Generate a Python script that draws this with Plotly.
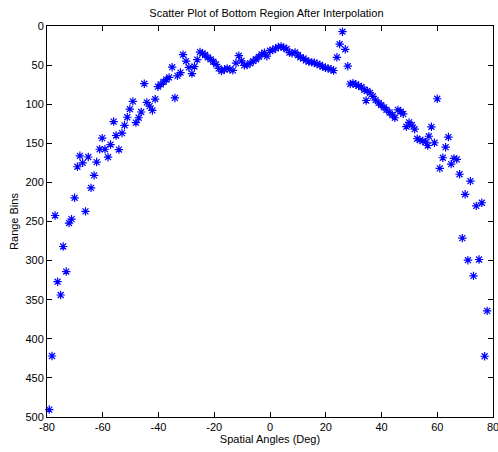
import plotly.graph_objects as go

angles = [-79.2, -78.2, -77.1, -76.2, -75.1, -74.2, -73.1, -72.1, -71.2, -70.1,
          -69.1, -68.2, -67.2, -66.2, -65.2, -64.2, -63.1, -62.2, -61.1, -60.2,
          -59.2, -58.1, -57.2, -56.1, -55.2, -54.2, -53.1, -52.2, -51.2, -50.3,
          -49.2, -48.1, -47.1, -46.2, -45.1, -44.2, -43.2, -42.2, -41.2, -40.2,
          -39.2, -38.2, -37.2, -36.2, -35.1, -34.1, -33.2, -32.1, -31.2, -30.1,
          -29.1, -28.0, -27.1, -26.1, -25.1, -24.2, -23.3, -22.3, -21.3, -20.3,
          -19.3, -18.4, -17.4, -16.3, -15.4, -14.4, -13.3, -12.2, -11.2, -10.2,
          -9.2, -8.2, -7.1, -6.0, -5.0, -4.0, -3.0, -2.0, -1.1, 0.0,
          1.0, 2.0, 3.0, 4.0, 4.9, 6.0, 7.0, 7.9, 9.0, 10.0,
          10.9, 12.0, 12.9, 13.9, 15.0, 15.9, 16.9, 17.9, 18.9, 19.9,
          20.8, 21.9, 22.8, 24.0, 25.0, 26.0, 27.0, 27.9, 28.8, 29.8,
          30.8, 31.8, 32.8, 33.8, 34.5, 34.9, 35.9, 36.9, 37.9, 39.0,
          39.9, 40.9, 41.8, 42.9, 43.9, 44.8, 45.9, 46.9, 47.8, 48.9,
          49.9, 50.9, 51.9, 52.8, 53.8, 54.8, 55.8, 56.6, 57.0, 57.9,
          59.0, 60.0, 60.9, 62.0, 63.0, 64.0, 65.0, 66.0, 67.0, 68.0,
          69.0, 70.0, 71.0, 71.9, 73.0, 74.0, 75.0, 76.0, 77.0, 77.9]

range_bins = [490.5, 422, 242.3, 327, 344, 282, 314, 252, 247, 219.7,
              180, 166, 175, 237, 167.5, 207, 191, 174, 157.6, 143.4,
              157.6, 167.8, 151.6, 122.2, 140, 158, 137, 127, 116.7, 106.2,
              96.4, 123.5, 117.3, 110, 73.8, 97.7, 102.4, 108, 93.4, 77.6,
              74.6, 71.6, 68.6, 65.8, 52.7, 92, 63.8, 59.5, 36.7, 44.8,
              53, 60.8, 51.8, 43, 33.3, 34.9, 37.1, 40, 42.7, 45.7,
              49, 54.2, 57.6, 55.4, 54.2, 55.4, 56.7, 47.4, 38, 44.5,
              50.4, 50, 47.8, 45, 42.5, 39.4, 36.3, 34.1, 38.6, 31.6,
              30.7, 28.6, 26.9, 26, 27.7, 29.4, 34.1, 34.9, 33.7, 37.1,
              40, 41.4, 44, 45.6, 46.5, 46.9, 48.6, 49.9, 52, 53.3,
              54.2, 55.4, 56.9, 40, 23.3, 7.3, 29.8, 51.4, 74.2, 73.2,
              74.8, 76.5, 78, 81.5, 95.3, 83, 85.5, 90, 94.7, 98.3,
              101.3, 104.1, 107.3, 110.6, 114, 117.3, 107.2, 109.4, 112.3, 128.8,
              123.3, 126.7, 132, 144.2, 146, 147, 148.5, 152.8, 141, 128.9,
              149.3, 93, 182.1, 168.5, 155, 142, 176.6, 169.3, 170.6, 189.6,
              271.3, 215.2, 299.5, 198.4, 319.5, 230, 298.6, 226, 422.3, 364.3]

x_ticks = [-80, -60, -40, -20, 0, 20, 40, 60, 80]
y_ticks = [0, 50, 100, 150, 200, 250, 300, 350, 400, 450, 500]

FONT = "Liberation Sans, Arial, sans-serif"

fig = go.Figure()
fig.add_trace(go.Scatter(
    x=angles, y=range_bins, mode="markers",
    marker=dict(symbol="asterisk-open", size=7, color="#0000FF",
                line=dict(color="#0000FF", width=1.2)),
    showlegend=False,
    cliponaxis=False,
))

axis_common = dict(
    showline=True, mirror="ticks", linecolor="black", linewidth=1,
    ticks="inside", ticklen=5, tickcolor="black", tickwidth=1,
    showgrid=False, zeroline=False, automargin=False,
    ticklabeloverflow="allow",
    tickfont=dict(family=FONT, size=11, color="black"),
)

fig.update_layout(
    width=498, height=452,
    margin=dict(l=47, r=5, t=26, b=35),
    paper_bgcolor="white", plot_bgcolor="white",
    title=dict(text="Scatter Plot of Bottom Region After Interpolation",
               x=0.535, xanchor="center", y=0.972, yanchor="middle",
               font=dict(family=FONT, size=11, color="black")),
    xaxis=dict(range=[-80, 80], tickvals=x_ticks, ticktext=[str(v) for v in x_ticks],
               title=dict(text="Spatial Angles (Deg)", standoff=2,
                          font=dict(family=FONT, size=11, color="black")),
               **axis_common),
    yaxis=dict(range=[500, 0], tickvals=y_ticks, ticktext=[str(v) for v in y_ticks],
               title=dict(text="Range Bins", standoff=4,
                          font=dict(family=FONT, size=11, color="black")),
               **axis_common),
)

fig.write_html("out.html",
               config={"displayModeBar": False},
               post_script="document.body.style.margin='0';document.body.style.overflow='hidden';")
